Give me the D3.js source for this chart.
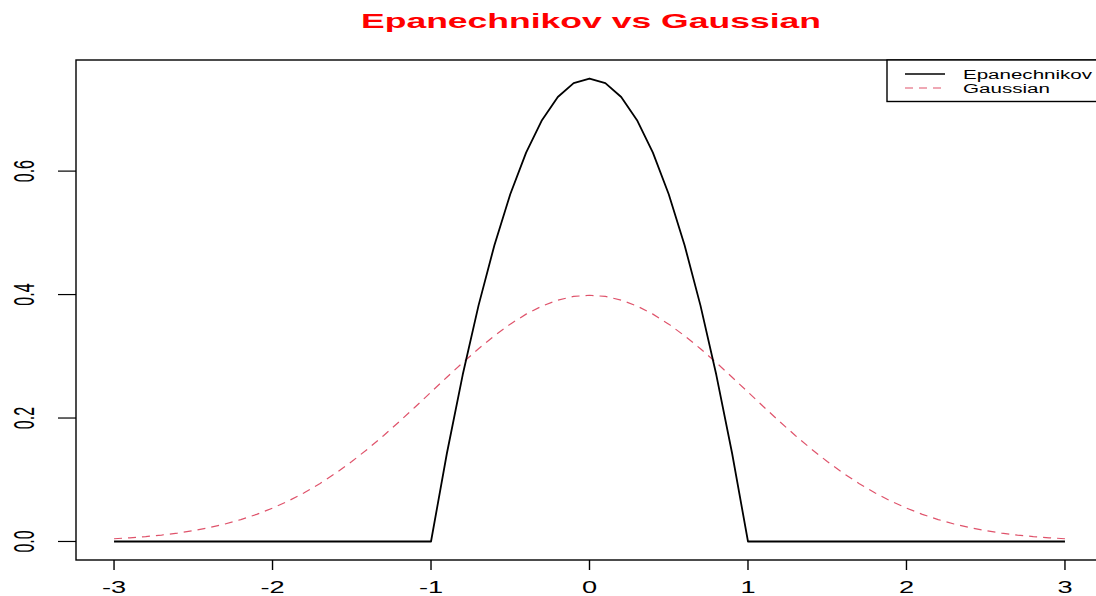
<!DOCTYPE html>
<html>
<head>
<meta charset="utf-8">
<script src="https://cdn.jsdelivr.net/npm/d3@7"></script>
<style>
  body { margin: 0; background: #fff; }
  svg { display: block; font-family: "Liberation Sans", Arial, sans-serif; }
</style>
</head>
<body>
<script>
// grid of x values and the two kernel curves
var xVals = [-3.0,-2.9,-2.8,-2.7,-2.6,-2.5,-2.4,-2.3,-2.2,-2.1,-2.0,-1.9,-1.8,-1.7,-1.6,-1.5,-1.4,-1.3,-1.2,-1.1,
             -1.0,-0.9,-0.8,-0.7,-0.6,-0.5,-0.4,-0.3,-0.2,-0.1,0.0,0.1,0.2,0.3,0.4,0.5,0.6,0.7,0.8,0.9,
             1.0,1.1,1.2,1.3,1.4,1.5,1.6,1.7,1.8,1.9,2.0,2.1,2.2,2.3,2.4,2.5,2.6,2.7,2.8,2.9,3.0];
var epanVals = [0,0,0,0,0,0,0,0,0,0,0,0,0,0,0,0,0,0,0,0,
                0,0.1425,0.27,0.3825,0.48,0.5625,0.63,0.6825,0.72,0.7425,0.75,0.7425,0.72,0.6825,0.63,0.5625,0.48,0.3825,0.27,0.1425,
                0,0,0,0,0,0,0,0,0,0,0,0,0,0,0,0,0,0,0,0,0];
var gaussVals = [0.0044,0.0060,0.0079,0.0104,0.0136,0.0175,0.0224,0.0283,0.0355,0.0440,0.0540,0.0656,0.0790,0.0940,0.1109,0.1295,0.1497,0.1714,0.1942,0.2179,
                 0.2420,0.2661,0.2897,0.3123,0.3332,0.3521,0.3683,0.3814,0.3910,0.3970,0.3989,0.3970,0.3910,0.3814,0.3683,0.3521,0.3332,0.3123,0.2897,0.2661,
                 0.2420,0.2179,0.1942,0.1714,0.1497,0.1295,0.1109,0.0940,0.0790,0.0656,0.0540,0.0440,0.0355,0.0283,0.0224,0.0175,0.0136,0.0104,0.0079,0.0060,0.0044];
var xTicks = [-3, -2, -1, 0, 1, 2, 3];
var yTicks = [0, 0.2, 0.4, 0.6];
var seriesNames = ["Epanechnikov", "Gaussian"];
var titleText = "Epanechnikov vs Gaussian";

var w = 1096, h = 596;
var pLeft = 76, pRight = 1103, pTop = 60, pBottom = 560;
var gaussCol = "#DF536B";

var svg = d3.select("body").append("svg")
    .attr("width", w)
    .attr("height", h);

var x = d3.scaleLinear().domain([-3.24, 3.24]).range([pLeft, pRight]);
var y = d3.scaleLinear().domain([-0.03, 0.78]).range([pBottom, pTop]);

// title
svg.append("text")
    .attr("x", 591).attr("y", 28)
    .attr("text-anchor", "middle")
    .attr("font-size", 21)
    .attr("font-weight", "bold")
    .attr("fill", "#ff0000")
    .attr("textLength", 460)
    .attr("lengthAdjust", "spacingAndGlyphs")
    .text(titleText);

// curves
var line = d3.line()
    .x(function(d) { return x(d[0]); })
    .y(function(d) { return y(d[1]); });

svg.append("path")
    .datum(d3.zip(xVals, gaussVals))
    .attr("d", line)
    .attr("fill", "none")
    .attr("stroke", gaussCol)
    .attr("stroke-width", 1.2)
    .attr("stroke-dasharray", "8,6");

svg.append("path")
    .datum(d3.zip(xVals, epanVals))
    .attr("d", line)
    .attr("fill", "none")
    .attr("stroke", "#000")
    .attr("stroke-width", 1.8)
    .attr("stroke-linejoin", "round");

// box
svg.append("rect")
    .attr("x", pLeft).attr("y", pTop)
    .attr("width", pRight - pLeft).attr("height", pBottom - pTop)
    .attr("fill", "none")
    .attr("stroke", "#000")
    .attr("stroke-width", 1.4);

// x axis ticks and labels
var xg = svg.append("g");
xg.selectAll("line").data(xTicks).enter().append("line")
    .attr("x1", function(d) { return x(d); })
    .attr("x2", function(d) { return x(d); })
    .attr("y1", pBottom).attr("y2", pBottom + 10)
    .attr("stroke", "#000").attr("stroke-width", 1.4);
xg.selectAll("text").data(xTicks).enter().append("text")
    .attr("transform", function(d) { return "translate(" + x(d) + ",593) scale(1.6,1)"; })
    .attr("text-anchor", "middle")
    .attr("font-size", 17)
    .text(function(d) { return d; });

// y axis ticks and labels
var yg = svg.append("g");
yg.selectAll("line").data(yTicks).enter().append("line")
    .attr("x1", pLeft - 18).attr("x2", pLeft)
    .attr("y1", function(d) { return y(d); })
    .attr("y2", function(d) { return y(d); })
    .attr("stroke", "#000").attr("stroke-width", 1.2);
yg.selectAll("text").data(yTicks).enter().append("text")
    .attr("transform", function(d) { return "translate(34," + y(d) + ") scale(1.85,1) rotate(-90)"; })
    .attr("text-anchor", "middle")
    .attr("font-size", 16)
    .text(function(d) { return d.toFixed(1); });

// legend
var lg = svg.append("g");
lg.append("rect")
    .attr("x", 887).attr("y", pTop)
    .attr("width", pRight - 887).attr("height", 41.5)
    .attr("fill", "#fff")
    .attr("stroke", "#000")
    .attr("stroke-width", 1.4);
var legY = [74, 88];
var legLens = [129, 87];
seriesNames.forEach(function(name, i) {
    lg.append("line")
        .attr("x1", 905).attr("x2", 945)
        .attr("y1", legY[i]).attr("y2", legY[i])
        .attr("stroke", i == 0 ? "#000" : gaussCol)
        .attr("stroke-width", i == 0 ? 1.4 : 1.2)
        .attr("stroke-dasharray", i == 0 ? null : "8,6");
    lg.append("text")
        .attr("x", 963).attr("y", legY[i] + 5)
        .attr("font-size", 12.5)
        .attr("textLength", legLens[i])
        .attr("lengthAdjust", "spacingAndGlyphs")
        .text(name);
});
</script>
</body>
</html>
